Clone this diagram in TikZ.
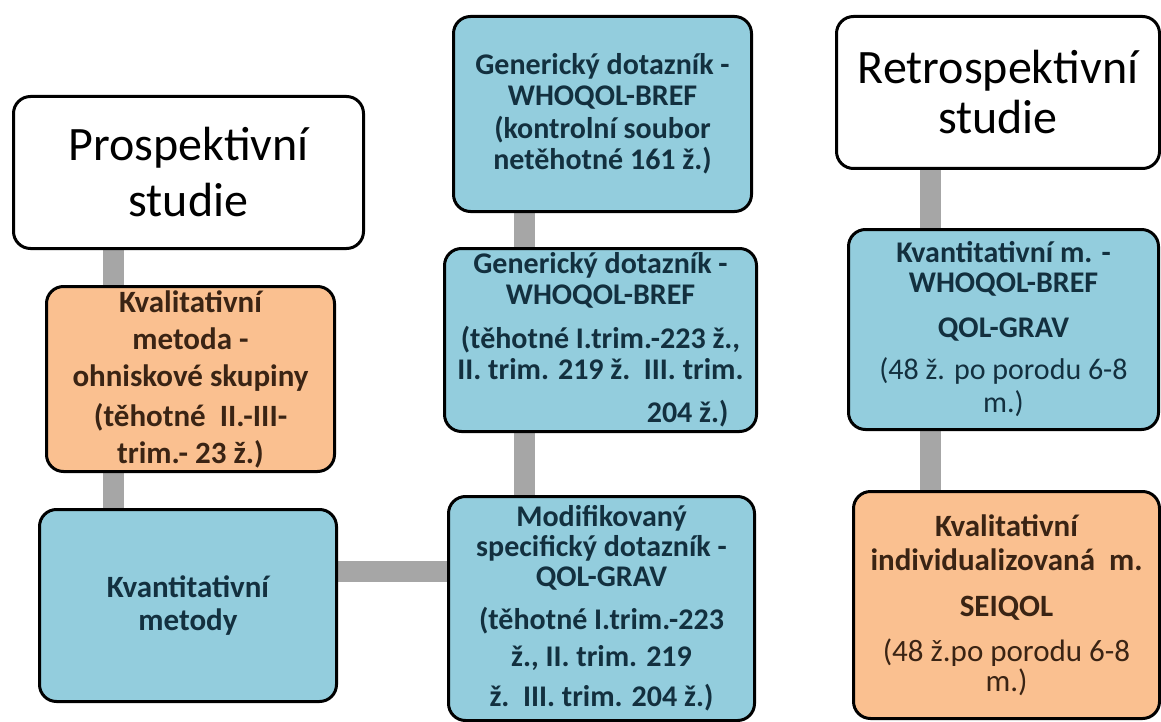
\documentclass[tikz,border=0pt]{standalone}
\usepackage{fontspec}
\setmainfont{Carlito}
\usetikzlibrary{backgrounds}
\definecolor{boxblue}{HTML}{93CDDD}
\definecolor{boxorange}{HTML}{FAC090}
\definecolor{conngray}{HTML}{A6A6A6}
\definecolor{bluetext}{HTML}{13303F}
\definecolor{orangetext}{HTML}{3A2414}
\tikzset{
  base/.style={draw=black, line width=3pt, rounded corners=17pt, align=center, inner sep=0pt, anchor=north west},
  titlebox/.style={base, fill=white, font=\fontsize{48}{56}\selectfont},
  bluebox/.style={base, fill=boxblue, text=bluetext, font=\fontsize{30}{31}\selectfont\bfseries},
  orangebox/.style={base, fill=boxorange, text=orangetext, font=\fontsize{31}{37}\selectfont\bfseries},
  conn/.style={draw=conngray, line width=21pt}
}
\begin{document}
\begin{tikzpicture}[x=1pt,y=1pt]
\useasboundingbox (0,0) rectangle (1161,-722);
% left column
\node[titlebox, minimum width=350pt, minimum height=152pt] (pros) at (12,-95) {Prospektivní\\studie};
\node[orangebox, minimum width=288pt, minimum height=185pt] (kval) at (45,-285)
  {Kvalitativní\\metoda -\\ohniskové skupiny\\[3pt](těhotné\ \ II.-III-\\trim.- 23 ž.)};
\node[bluebox, font=\fontsize{31}{33}\selectfont\bfseries, minimum width=297pt, minimum height=192pt] (kvant) at (38,-508)
  {Kvantitativní\\metody};
% middle column
\node[bluebox, minimum width=298pt, minimum height=195pt] (gen1) at (452,-15)
  {Generický dotazník -\\WHOQOL-BREF\\[2pt](kontrolní soubor\\netěhotné 161 ž.)};
\node[bluebox, minimum width=312pt, minimum height=183pt] (gen2) at (443,-247)
  {Generický dotazník -\\WHOQOL-BREF\\[13pt](těhotné I.trim.-223 ž.,\\II. trim. 219 ž.\ \ III. trim.\\[12pt]\makebox[256pt][r]{204 ž.)}};
\node[bluebox, font=\fontsize{30}{30}\selectfont\bfseries, minimum width=306pt, minimum height=224pt] (modif) at (447,-495)
  {Modifikovaný\\specifický dotazník -\\QOL-GRAV\\[13pt](těhotné I.trim.-223\\[7pt]ž., II. trim. 219\\[10pt]ž.\ \ III. trim. 204 ž.)};
% right column
\node[titlebox, font=\fontsize{48}{50}\selectfont, minimum width=323pt, minimum height=152pt] (retro) at (835,-15) {Retrospektivní\\studie};
\node[bluebox, font=\fontsize{30}{30}\selectfont\bfseries, minimum width=310pt, minimum height=200pt] (quant) at (847,-228)
  {Kvantitativní m. -\\WHOQOL-BREF\\[15pt]QOL-GRAV\\[12pt]{\mdseries (48 ž. po porodu 6-8}\\[3pt]{\mdseries m.)}};
\node[orangebox, font=\fontsize{31}{34}\selectfont\bfseries, minimum width=306pt, minimum height=227pt] (seiq) at (852,-490)
  {Kvalitativní\\individualizovaná\ \ m.\\[12pt]SEIQOL\\[11pt]{\mdseries (48 ž.po porodu 6-8}\\[-4pt]{\mdseries m.)}};
% connector positions
\coordinate (cl) at (113,0);
\coordinate (cm) at (524,0);
\coordinate (cr) at (930,0);
\coordinate (ch) at (0,-571);
\begin{scope}[on background layer]
  \draw[conn] (pros.south -| cl) -- (kval.north -| cl);
  \draw[conn] (kval.south -| cl) -- (kvant.north -| cl);
  \draw[conn] (gen1.south -| cm) -- (gen2.north -| cm);
  \draw[conn] (gen2.south -| cm) -- (modif.north -| cm);
  \draw[conn] (kvant.east |- ch) -- (modif.west |- ch);
  \draw[conn] (retro.south -| cr) -- (quant.north -| cr);
  \draw[conn] (quant.south -| cr) -- (seiq.north -| cr);
\end{scope}
\end{tikzpicture}
\end{document}
